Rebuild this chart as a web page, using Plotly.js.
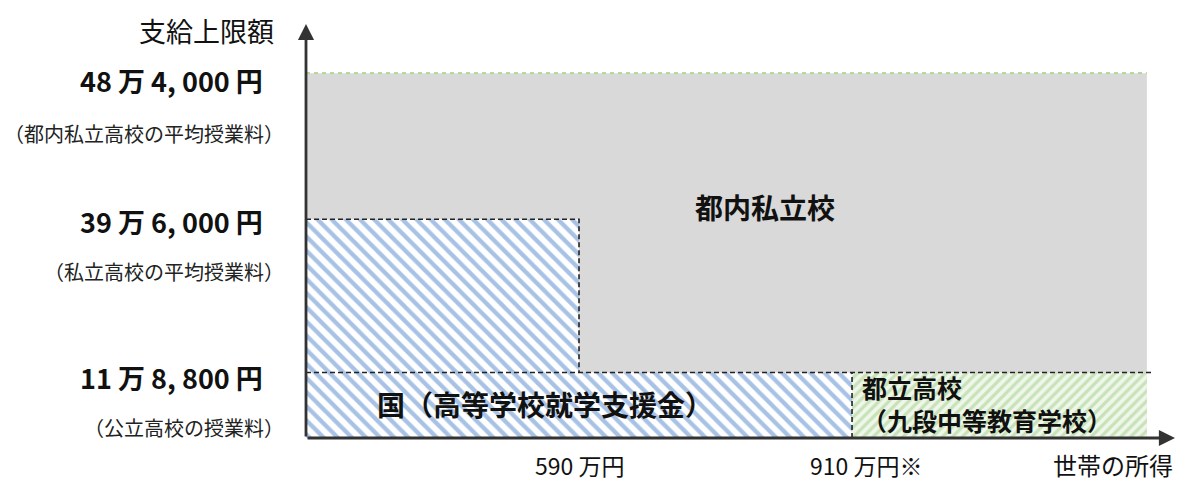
<!DOCTYPE html>
<html>
<head>
<meta charset="utf-8">
<script src="https://cdn.plot.ly/plotly-3.0.1.min.js"></script>
<style>html,body{margin:0;padding:0;background:#fff;}#chart{width:1187px;height:483px;}</style>
</head>
<body>
<div id="chart"></div>
<script>
// ---- data (schematic chart: levels are the drawn step heights / widths) ----
const amountValues = [118800, 396000, 484000];                 // 円
const amountLabels = ['11 万 8, 800 円', '39 万 6, 000 円', '48 万 4, 000 円'];
const amountNotes  = ['（公立高校の授業料）', '（私立高校の平均授業料）', '（都内私立高校の平均授業料）'];
const amountLevels = [1, 3.34, 5.57];                           // drawn height of each amount
const incomeLabels = ['590 万円', '910 万円※'];
const incomeLevels = [1, 2];                                    // drawn position of each income
const incomeEnd = 3.08;                                         // drawn end of the income range
const regionNames = ['都内私立校', '国（高等学校就学支援金）', '都立高校', '（九段中等教育学校）'];
const axisTitles = {y: '支給上限額', x: '世帯の所得'};

const xMax = 3.183, yMax = 6.32;
const [lowY, midY, topY] = amountLevels;
const [x1, x2] = incomeLevels;

const traces = [
  // 都内私立校 (gray)
  {x: [0, incomeEnd, incomeEnd, 0, 0], y: [0, 0, topY, topY, 0], fill: 'toself', mode: 'none',
   fillcolor: '#d9d9d9', hoverinfo: 'skip'},
  // 国 (blue hatch)
  {x: [0, x2, x2, x1, x1, 0, 0], y: [0, 0, lowY, lowY, midY, midY, 0], fill: 'toself', mode: 'none',
   fillcolor: '#ffffff', fillpattern: {shape: '\\', fgcolor: '#a8c2e6', bgcolor: '#ffffff', size: 10, solidity: 0.42},
   hoverinfo: 'skip'},
  // 都立 (green hatch)
  {x: [x2, incomeEnd, incomeEnd, x2, x2], y: [0, 0, lowY, lowY, 0], fill: 'toself', mode: 'none',
   fillcolor: '#eef7ea', fillpattern: {shape: '/', fgcolor: '#c8e2b8', bgcolor: '#eef7ea', size: 7, solidity: 0.45},
   hoverinfo: 'skip'},
  // dashed borders
  {x: [0, 3.10], y: [lowY, lowY], mode: 'lines', line: {color: '#222', width: 1.6, dash: '5px,3px'}, hoverinfo: 'skip'},
  {x: [0, x1, x1], y: [midY, midY, lowY], mode: 'lines', line: {color: '#222', width: 1.6, dash: '5px,3px'}, hoverinfo: 'skip'},
  {x: [x2, x2], y: [0, lowY], mode: 'lines', line: {color: '#222', width: 1.6, dash: '5px,3px'}, hoverinfo: 'skip'},
  {x: [0, incomeEnd], y: [topY, topY], mode: 'lines', line: {color: '#b7d9a0', width: 2.2, dash: '4px,4px'}, hoverinfo: 'skip'}
];

const jp = 'Noto Sans CJK JP';
const ann = [];
// axes with arrows
ann.push({x: 0, y: yMax, ax: 0, ay: 0, axref: 'x', ayref: 'y', xref: 'x', yref: 'y', text: '',
  showarrow: true, arrowhead: 2, arrowsize: 1.15, arrowwidth: 2.8, arrowcolor: '#333333', standoff: 0});
ann.push({x: xMax, y: 0, ax: 0, ay: 0, axref: 'x', ayref: 'y', xref: 'x', yref: 'y', text: '',
  showarrow: true, arrowhead: 2, arrowsize: 1.15, arrowwidth: 2.8, arrowcolor: '#333333', standoff: 0});
// axis titles
ann.push({xref: 'paper', yref: 'paper', x: -0.034, y: 0.985, xanchor: 'right', yanchor: 'middle', showarrow: false,
  text: axisTitles.y, font: {family: jp, size: 27, color: '#111'}});
ann.push({xref: 'paper', yref: 'y', x: 1.0, y: 0, yshift: -26, xanchor: 'right', yanchor: 'middle', showarrow: false,
  text: axisTitles.x, font: {family: jp, size: 24, color: '#111'}});
// amount labels
const amountShift = [-5, -2, -7];
const noteShift = [-50, -50, -53];
amountLevels.forEach((lv, i) => {
  ann.push({xref: 'paper', yref: 'y', x: -0.047, y: lv, yshift: amountShift[i], xanchor: 'right', yanchor: 'middle',
    showarrow: false, text: '<b>' + amountLabels[i] + '</b>', font: {family: jp, size: 27, color: '#111'}});
  ann.push({xref: 'paper', yref: 'y', x: -0.023, y: lv, yshift: amountShift[i] + noteShift[i], xanchor: 'right', yanchor: 'middle',
    showarrow: false, text: amountNotes[i], font: {family: jp, size: 20, color: '#222'}});
});
// income labels
const incomeShift = [0, 14];
incomeLevels.forEach((lv, i) => {
  ann.push({xref: 'x', yref: 'y', x: lv, y: 0, yshift: -27, xshift: incomeShift[i], xanchor: 'center',
    yanchor: 'middle', showarrow: false, text: incomeLabels[i],
    font: {family: jp, size: 23, color: '#111'}});
});
// region names
ann.push({xref: 'x', yref: 'y', x: 1.68, y: 3.53, showarrow: false, text: '<b>' + regionNames[0] + '</b>',
  font: {family: jp, size: 28, color: '#111'}});
ann.push({xref: 'x', yref: 'y', x: 0.875, y: 0.52, showarrow: false, text: '<b>' + regionNames[1] + '</b>',
  font: {family: jp, size: 28, color: '#111'}});
ann.push({xref: 'x', yref: 'y', x: x2, xshift: 8, y: 0.52, xanchor: 'left', yanchor: 'middle', align: 'left', showarrow: false,
  text: '<b>' + regionNames[2] + '<br>' + regionNames[3] + '</b>',
  font: {family: jp, size: 25, color: '#111'}});

const layout = {
  width: 1187, height: 483,
  margin: {l: 306, r: 12, t: 24, b: 45},
  paper_bgcolor: '#ffffff', plot_bgcolor: '#ffffff',
  showlegend: false,
  xaxis: {range: [0, xMax], visible: false, fixedrange: true},
  yaxis: {range: [0, yMax], visible: false, fixedrange: true},
  annotations: ann
};

Plotly.newPlot('chart', traces, layout, {staticPlot: true, displayModeBar: false});
</script>
</body>
</html>
